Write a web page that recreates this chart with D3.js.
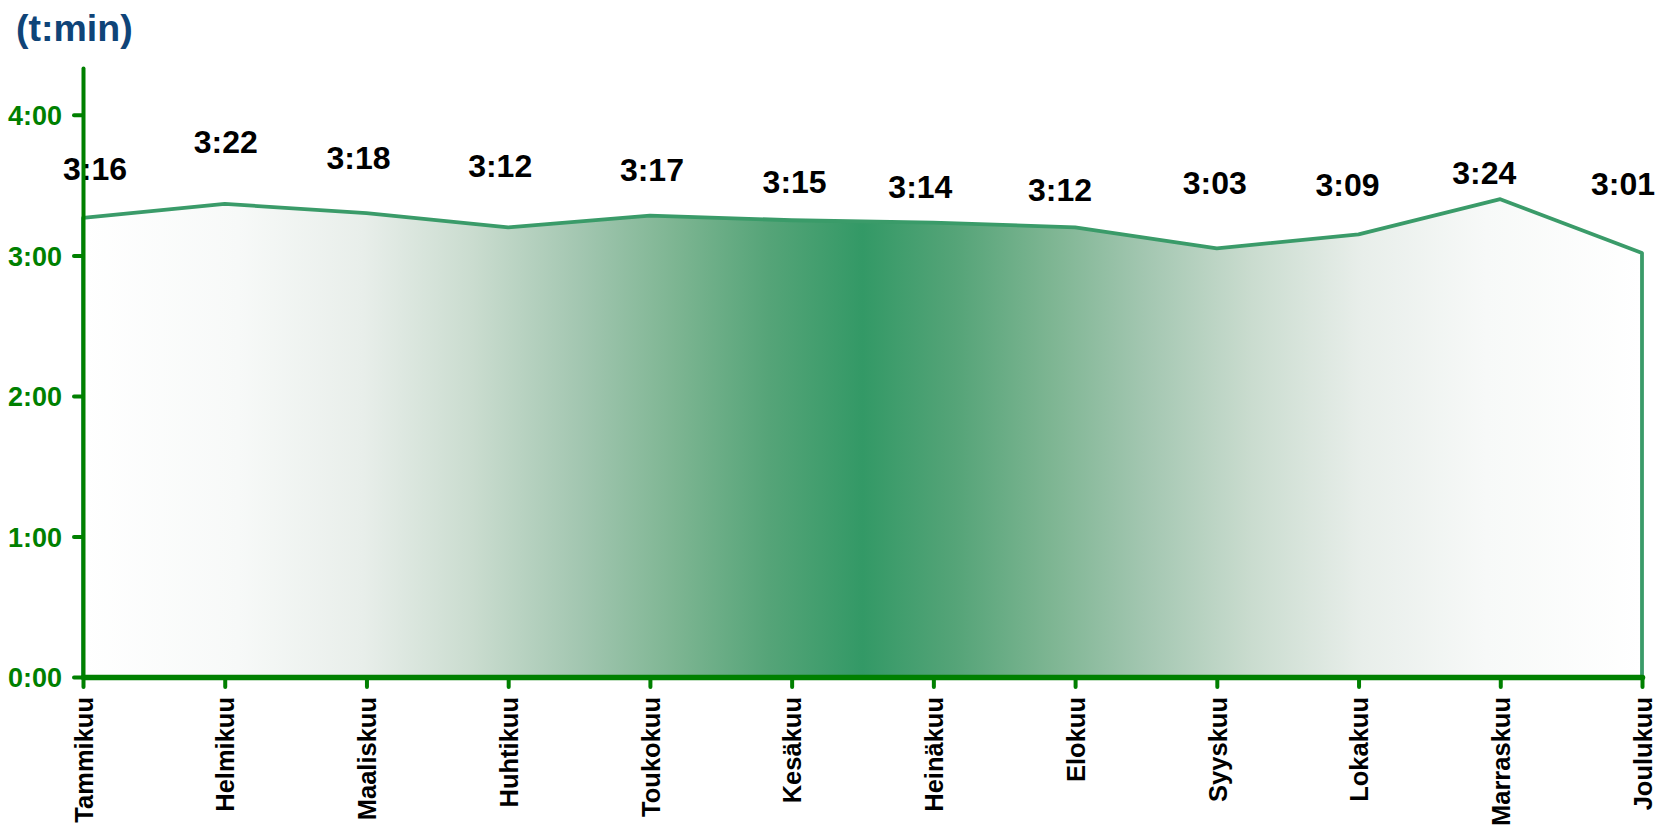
<!DOCTYPE html>
<meta charset="utf-8">
<style>

body{
    margin:0;
    background-color:white;
}

svg text{
    font-family:Arial, "Liberation Sans", sans-serif;
    font-weight:bold;
}

.y.axis text { fill:#008000; font-size:27px; }
.x.axis text { fill:#000; font-size:25.5px; }
.axis path, .axis line { stroke:#008000; stroke-linecap:round; }

.title { fill:#0f4478; font-size:37.5px; }
.valueLabel { fill:#000; font-size:32px; }

.area {
  stroke:#3a9b69;
  stroke-width:3.8;
  stroke-linejoin:round;
}

</style>
<body>
<script src="https://cdn.jsdelivr.net/npm/d3@7/dist/d3.min.js"></script>
<script>

var width = 1661,
    height = 831;

// months and average time per month in minutes
var months = ["Tammikuu","Helmikuu","Maaliskuu","Huhtikuu","Toukokuu","Kesäkuu",
    "Heinäkuu","Elokuu","Syyskuu","Lokakuu","Marraskuu","Joulukuu"];
var minutes = [196, 202, 198, 192, 197, 195, 194, 192, 183, 189, 204, 181];
var yTicks = [0, 60, 120, 180, 240];

// hand placed label nudges (px from the point), like the original
var labelDx = [12, 1, -8, -8, 2, 3, -13, -15, -2, -11, -16, -19];
var labelLift = [38, 51, 44, 50, 35, 27, 25, 26, 54, 38, 15, 58];

var data = months.map(function(m, i){ return {month:m, value:minutes[i], i:i}; });

var hmm = function(v){
    var h = Math.floor(v / 60), m = v % 60;
    return h + ":" + (m < 10 ? "0" + m : m);
};

var svg = d3.select("body").append("svg")
    .attr("width", width)
    .attr("height", height);

var x = d3.scalePoint()
    .domain(months)
    .range([83, 1642]);

var y = d3.scaleLinear()
    .domain([0, 260])
    .range([677, 68]);

var grad = svg.append("defs").append("linearGradient")
    .attr("id","fade")
    .attr("gradientUnits","userSpaceOnUse")
    .attr("x1", x.range()[0]).attr("x2", x.range()[1])
    .attr("y1", 0).attr("y2", 0);

var stops = [
    [0, "#ffffff"], [0.10, "#f7f9f8"], [0.18, "#e8eeea"], [0.25, "#cadccf"],
    [0.32, "#a2c6b0"], [0.38, "#7db592"], [0.44, "#55a478"], [0.50, "#339966"],
    [0.56, "#55a478"], [0.62, "#7db592"], [0.68, "#a2c6b0"], [0.75, "#cadccf"],
    [0.82, "#e8eeea"], [0.90, "#f7f9f8"], [1, "#ffffff"]
];
grad.selectAll("stop")
    .data(stops)
    .enter().append("stop")
    .attr("offset", function(d){ return d[0]; })
    .attr("stop-color", function(d){ return d[1]; });

var area = d3.area()
    .x(function(d){ return x(d.month); })
    .y0(y(0))
    .y1(function(d){ return y(d.value); });

svg.append("path")
    .datum(data)
    .attr("class","area")
    .attr("fill","url(#fade)")
    .attr("d", area);

svg.selectAll(".valueLabel")
    .data(data)
    .enter().append("text")
    .attr("class","valueLabel")
    .attr("text-anchor","middle")
    .attr("x", function(d){ return x(d.month) + labelDx[d.i]; })
    .attr("y", function(d){ return y(d.value) - labelLift[d.i]; })
    .text(function(d){ return hmm(d.value); });

var yAxis = svg.append("g")
    .attr("class","y axis")
    .attr("transform","translate(" + x.range()[0] + ",0)")
    .call(d3.axisLeft(y).tickValues(yTicks).tickFormat(hmm).tickSize(9).tickSizeOuter(0).tickPadding(12));
yAxis.select(".domain").attr("stroke-width", 4);
yAxis.selectAll(".tick line").attr("stroke-width", 4);
yAxis.selectAll("text").attr("dy","0.36em");

var xAxis = svg.append("g")
    .attr("class","x axis")
    .attr("transform","translate(0," + y(0) + ")")
    .call(d3.axisBottom(x).tickSize(10).tickSizeOuter(0));
xAxis.select(".domain").attr("stroke-width", 5.5);
xAxis.selectAll(".tick line").attr("stroke-width", 4);
xAxis.selectAll("text")
    .attr("transform","rotate(-90)")
    .attr("text-anchor","end")
    .attr("x", -20)
    .attr("y", 0)
    .attr("dy","0.36em");

svg.append("text")
    .attr("class","title")
    .attr("x", 16)
    .attr("y", 41)
    .text("(t:min)");

</script>
